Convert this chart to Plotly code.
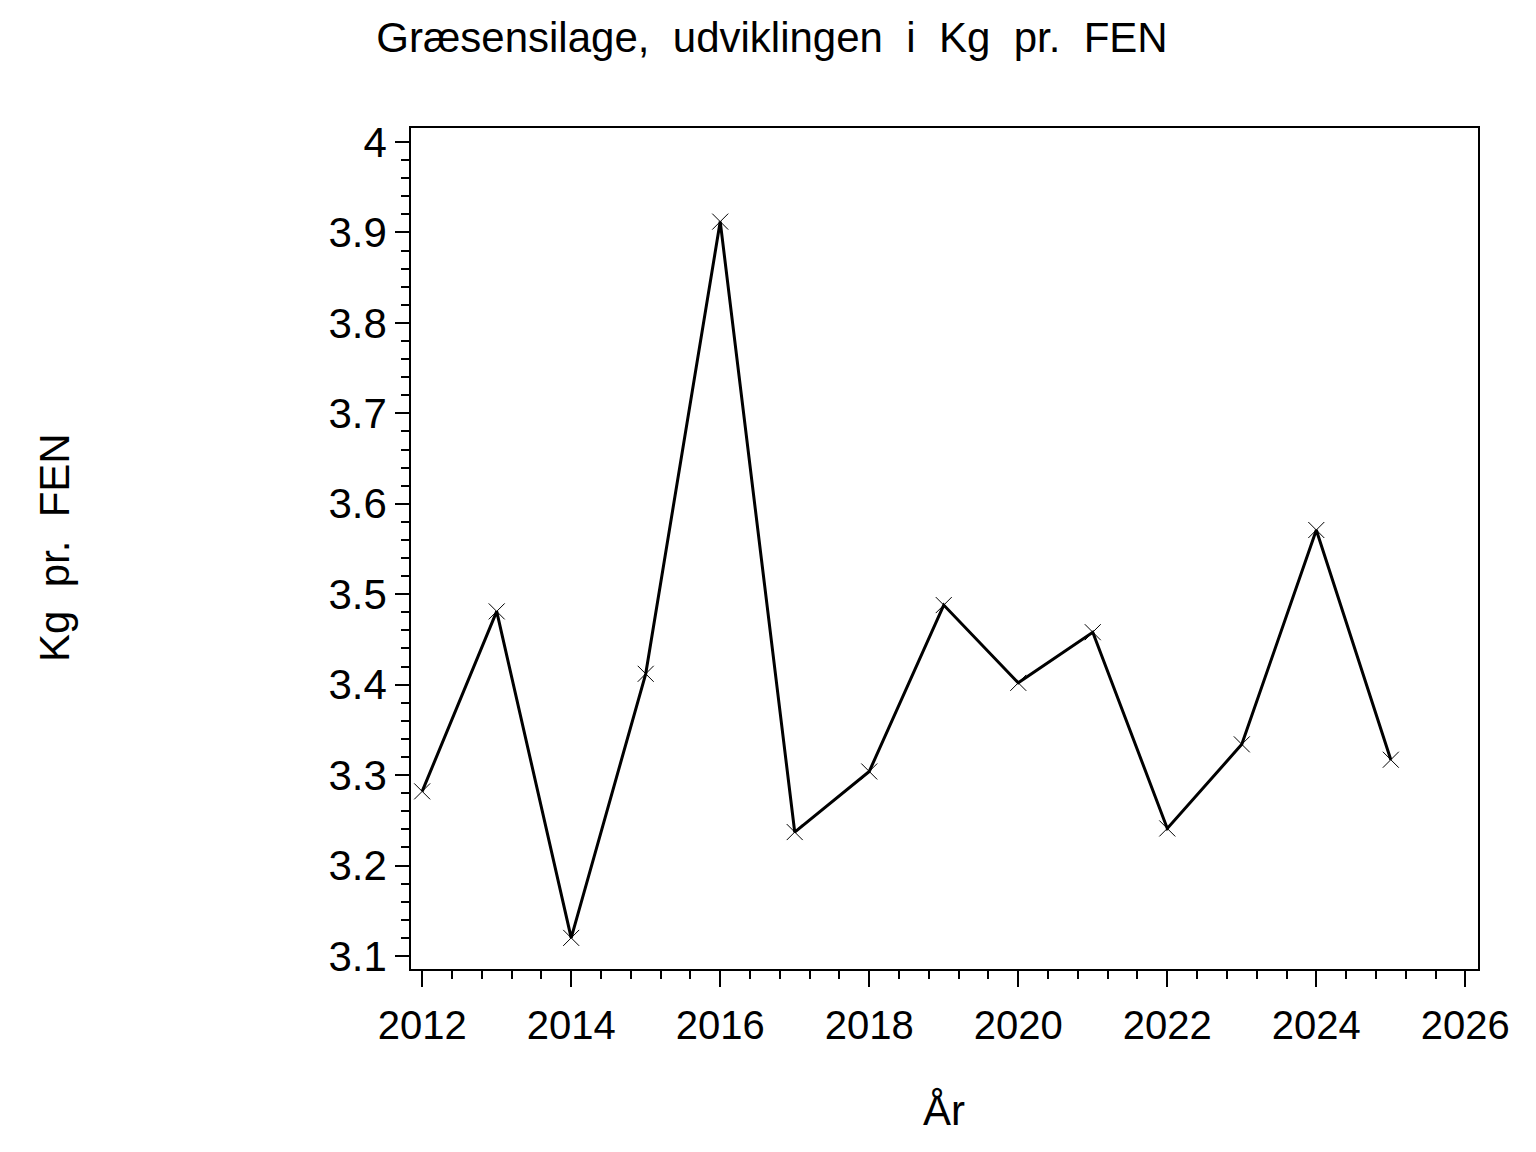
import plotly.graph_objects as go

years = [2012, 2013, 2014, 2015, 2016, 2017, 2018, 2019, 2020, 2021, 2022, 2023, 2024, 2025]
kg_pr_fen = [3.282, 3.481, 3.120, 3.412, 3.912, 3.237, 3.304, 3.488, 3.402, 3.458, 3.241, 3.334, 3.571, 3.317]

title_text = "Græsensilage,\u00a0\u00a0udviklingen\u00a0\u00a0i\u00a0\u00a0Kg\u00a0\u00a0pr.\u00a0\u00a0FEN"
y_title = "Kg\u00a0\u00a0pr.\u00a0\u00a0FEN"
x_title = "År"

FONT = "Liberation Sans, Arial, sans-serif"

W, H = 1528, 1144

fig = go.Figure()
fig.add_trace(go.Scatter(
    x=years, y=kg_pr_fen, mode="lines+markers",
    line=dict(color="black", width=3),
    marker=dict(symbol="x-thin", size=16, line=dict(color="black", width=1)),
    showlegend=False,
))

fig.update_layout(
    width=W, height=H,
    paper_bgcolor="white", plot_bgcolor="white",
    margin=dict(l=403, r=58, t=120, b=183),
    font=dict(family=FONT, size=40, color="black"),
    title=dict(text=title_text, x=0.5, xref="container", xanchor="center",
               y=1 - 29 / H, yref="container", yanchor="middle",
               font=dict(family=FONT, size=42, color="black")),
    annotations=[
        dict(text=y_title, xref="paper", yref="paper", x=-0.3336, y=0.5006,
             textangle=-90, showarrow=False, xanchor="center", yanchor="middle",
             font=dict(family=FONT, size=42, color="black")),
        dict(text=x_title, xref="paper", yref="paper", x=0.4995, y=-0.1677,
             showarrow=False, xanchor="center", yanchor="middle",
             font=dict(family=FONT, size=42, color="black")),
    ],
)

fig.update_xaxes(
    range=[2011.85, 2026.17], tick0=2012, dtick=2, tickmode="linear",
    showgrid=False, zeroline=False,
    showline=True, linecolor="black", linewidth=1.5, mirror=True,
    ticks="outside", ticklen=16, tickwidth=1.5, tickcolor="black",
    ticklabelstandoff=4,
    tickfont=dict(family=FONT, size=40, color="black"),
    minor=dict(dtick=0.4, tick0=2012, ticks="outside", ticklen=8, tickwidth=1.5,
               tickcolor="black", showgrid=False),
)
fig.update_yaxes(
    range=[3.0856, 4.0155], tick0=3.1, dtick=0.1, tickmode="linear",
    showgrid=False, zeroline=False,
    showline=True, linecolor="black", linewidth=1.5, mirror=True,
    ticks="outside", ticklen=14, tickwidth=1.5, tickcolor="black",
    tickfont=dict(family=FONT, size=42, color="black"),
    minor=dict(dtick=0.02, tick0=3.1, ticks="outside", ticklen=8, tickwidth=1.5,
               tickcolor="black", showgrid=False),
)

fig.write_html("out.html")
